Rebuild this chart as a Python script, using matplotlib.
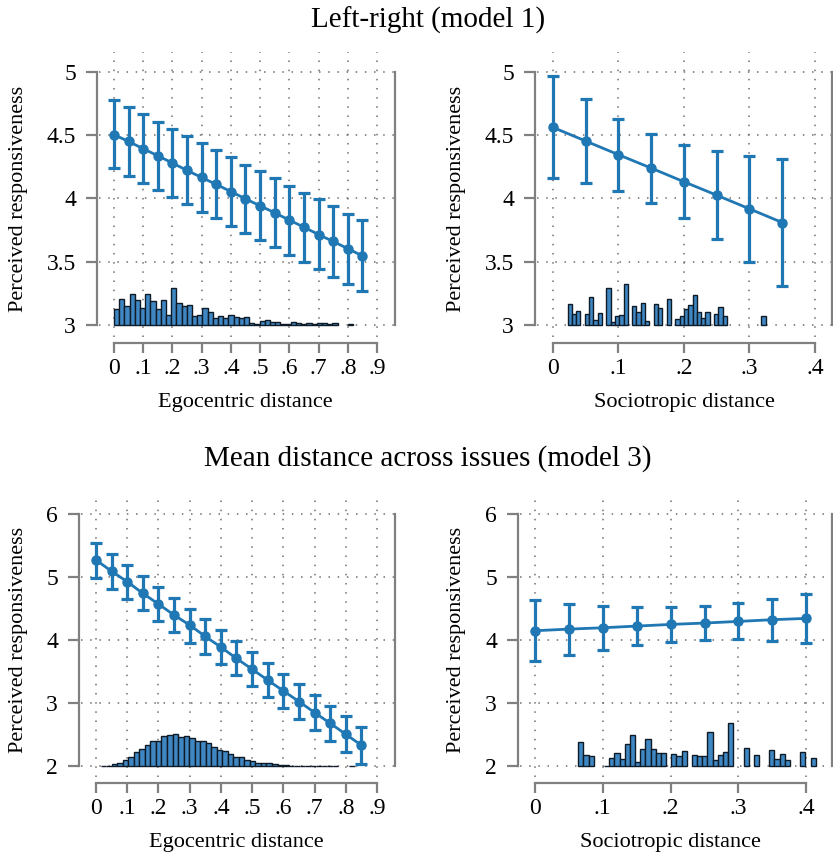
import matplotlib.pyplot as plt
import numpy as np

plt.rcParams['font.family'] = ['Liberation Serif', 'DejaVu Serif']

# ---- data ----
# top-left: Left-right, egocentric distance
ego_lr_x = [0, .05, .1, .15, .2, .25, .3, .35, .4, .45, .5, .55, .6, .65, .7, .75, .8, .85]
ego_lr_est = [4.504, 4.451, 4.393, 4.338, 4.280, 4.222, 4.166, 4.111, 4.055,
              3.997, 3.942, 3.887, 3.829, 3.773, 3.715, 3.660, 3.604, 3.546]
ego_lr_hi = [4.776, 4.720, 4.668, 4.607, 4.549, 4.491, 4.435, 4.383, 4.325,
             4.266, 4.214, 4.158, 4.100, 4.045, 3.992, 3.939, 3.881, 3.826]
ego_lr_lo = [4.240, 4.179, 4.124, 4.069, 4.013, 3.955, 3.897, 3.844, 3.786,
             3.728, 3.670, 3.615, 3.557, 3.499, 3.441, 3.383, 3.325, 3.269]
ego_lr_hist = [0.124, 0.206, 0.150, 0.242, 0.198, 0.134, 0.245, 0.187, 0.124, 0.198,
               0.079, 0.292, 0.171, 0.148, 0.155, 0.071, 0.079, 0.132, 0.100, 0.055,
               0.069, 0.055, 0.079, 0.061, 0.053, 0.063, 0.013, 0.005, 0.032, 0.040,
               0.024, 0.024, 0.008, 0.008, 0.024, 0.013, 0.005, 0.016, 0.005, 0.013,
               0.013, 0.005, 0.016, 0, 0, 0.005]
ego_lr_bin0, ego_lr_binw = 0.0, 0.0178

# top-right: Left-right, sociotropic distance
soc_lr_x = [0, .05, .1, .15, .2, .25, .3, .35]
soc_lr_est = [4.562, 4.454, 4.346, 4.240, 4.132, 4.026, 3.918, 3.810]
soc_lr_hi = [4.966, 4.786, 4.631, 4.509, 4.425, 4.372, 4.335, 4.311]
soc_lr_lo = [4.161, 4.121, 4.063, 3.968, 3.842, 3.681, 3.501, 3.311]
soc_lr_hist = [0.166, 0.087, 0.111, 0, 0.087, 0.221, 0.040, 0.095, 0, 0.292,
               0.024, 0.069, 0.079, 0.324, 0, 0.150, 0.103, 0.174, 0.034, 0,
               0.166, 0.134, 0, 0.206, 0, 0.047, 0.071, 0.124, 0.158, 0.237,
               0.103, 0.055, 0.103, 0, 0.087, 0.142, 0.071, 0, 0, 0,
               0, 0, 0, 0, 0, 0.071]
soc_lr_bin0, soc_lr_binw = 0.0222, 0.00658

# bottom-left: mean distance, egocentric
ego_md_x = ego_lr_x
ego_md_est = [5.269, 5.089, 4.925, 4.739, 4.570, 4.395, 4.236, 4.056, 3.886,
              3.706, 3.536, 3.362, 3.192, 3.023, 2.848, 2.678, 2.503, 2.329]
ego_md_hi = [5.534, 5.364, 5.184, 5.009, 4.834, 4.660, 4.495, 4.326, 4.151,
             3.976, 3.807, 3.632, 3.462, 3.298, 3.128, 2.959, 2.789, 2.620]
ego_md_lo = [4.988, 4.813, 4.644, 4.474, 4.299, 4.125, 3.950, 3.780, 3.611,
             3.441, 3.266, 3.091, 2.917, 2.742, 2.567, 2.392, 2.217, 2.027]
ego_md_hist = [0.005, 0.003, 0.032, 0.053, 0.095, 0.148, 0.217, 0.265, 0.334, 0.403,
               0.403, 0.477, 0.493, 0.509, 0.456, 0.477, 0.445, 0.392, 0.392, 0.360,
               0.297, 0.254, 0.233, 0.191, 0.138, 0.138, 0.090, 0.085, 0.053, 0.048,
               0.042, 0.026, 0.016, 0.016, 0.005, 0.004, 0.004, 0.004, 0.004, 0.004,
               0.004, 0.004, 0.004, 0, 0, 0.005]
ego_md_bin0, ego_md_binw = 0.015, 0.0177

# bottom-right: mean distance, sociotropic
soc_md_x = [0, .05, .1, .15, .2, .25, .3, .35, .4]
soc_md_est = [4.146, 4.172, 4.193, 4.220, 4.246, 4.268, 4.294, 4.321, 4.342]
soc_md_hi = [4.633, 4.575, 4.543, 4.517, 4.517, 4.532, 4.580, 4.654, 4.734]
soc_md_lo = [3.658, 3.759, 3.838, 3.913, 3.966, 3.997, 4.008, 3.987, 3.955]
soc_md_hist = [0.376, 0.175, 0.159, 0, 0, 0.005, 0.122, 0.207, 0.111, 0.350,
               0.493, 0.058, 0.265, 0.424, 0.270, 0.201, 0.201, 0, 0.191, 0.159,
               0.238, 0, 0.175, 0.159, 0.159, 0.540, 0.090, 0.175, 0.223, 0.678,
               0, 0, 0.281, 0, 0.175, 0, 0, 0.254, 0.106, 0.191,
               0.090, 0, 0, 0.217, 0, 0.122]
soc_md_bin0, soc_md_binw = 0.0639, 0.007613

ego_ticks = [0, .1, .2, .3, .4, .5, .6, .7, .8, .9]
ego_ticklabels = ['0', '.1', '.2', '.3', '.4', '.5', '.6', '.7', '.8', '.9']
soc_ticks = [0, .1, .2, .3, .4]
soc_ticklabels = ['0', '.1', '.2', '.3', '.4']
lr_yticks = [3, 3.5, 4, 4.5, 5]
lr_yticklabels = ['3', '3.5', '4', '4.5', '5']
md_yticks = [2, 3, 4, 5, 6]
md_yticklabels = ['2', '3', '4', '5', '6']

titles = ['Left-right (model 1)', 'Mean distance across issues (model 3)']
ylab = 'Perceived responsiveness'

# ---- styling ----
LINE = '#1f77b4'
BARFILL = '#3f87c2'
BAREDGE = '#0e1a26'
AXGRAY = '#808080'
W, H = 833, 857

fig = plt.figure(figsize=(W / 100, H / 100), dpi=100)


def panel(box, xlim, ylim, x, est, lo, hi, hist, bin0, binw,
          xticks, xticklabels, yticks, yticklabels, xlabel, ylab_off):
    # box is (left, top, right, bottom) in pixels
    l, t, r, b = box
    ax = fig.add_axes([l / W, 1 - b / H, (r - l) / W, (b - t) / H])
    ax.set_xlim(xlim)
    ax.set_ylim(ylim)
    base = yticks[0]

    # histogram of the moderator along the bottom
    hist = np.asarray(hist)
    edges = bin0 + binw * np.arange(len(hist))
    keep = hist > 0
    ax.bar(edges[keep], hist[keep], width=binw, bottom=base, align='edge',
           color=BARFILL, edgecolor=BAREDGE, linewidth=1.0, zorder=2)

    # marginal effects with 95% CI
    est = np.asarray(est)
    yerr = [est - np.asarray(lo), np.asarray(hi) - est]
    ax.errorbar(x, est, yerr=yerr, color=LINE, lw=2.0, marker='o', ms=6.5,
                elinewidth=2.3, capsize=4.5, capthick=2.3, zorder=3)

    ax.set_xticks(xticks)
    ax.set_xticklabels(xticklabels)
    ax.set_yticks(yticks)
    ax.set_yticklabels(yticklabels)

    ax.grid(True, linestyle=(0, (1, 5)), linewidth=1.1, color='#6f6f6f')
    ax.set_axisbelow(True)

    for s in ['left', 'bottom', 'right']:
        ax.spines[s].set_color(AXGRAY)
        ax.spines[s].set_linewidth(1.6)
    ax.spines['top'].set_visible(False)
    ax.spines['left'].set_position(('outward', 1.5))
    ax.spines['bottom'].set_position(('outward', 4.3))
    ax.spines['left'].set_bounds(yticks[0], yticks[-1])
    ax.spines['right'].set_bounds(yticks[0], yticks[-1])
    ax.spines['bottom'].set_bounds(xticks[0], xticks[-1])

    ax.tick_params(axis='y', direction='out', length=8, width=1.6, color=AXGRAY,
                   labelsize=17, pad=7)
    ax.tick_params(axis='x', direction='out', length=7, width=1.6, color=AXGRAY,
                   labelsize=17, pad=4)

    # labels centred on the drawn axis lines
    xc = (np.mean([xticks[0], xticks[-1]]) - xlim[0]) / (xlim[1] - xlim[0])
    yc = (np.mean([yticks[0], yticks[-1]]) - ylim[0]) / (ylim[1] - ylim[0])
    ax.set_xlabel(xlabel, fontsize=16, va='center')
    ax.xaxis.set_label_coords(xc, -66 / (b - t))
    ax.set_ylabel(ylab, fontsize=16, va='center', ha='center')
    ax.yaxis.set_label_coords(-ylab_off / (r - l), yc)
    return ax


panel((99, 52, 395, 337), (-0.0513, 0.9616), (2.905, 5.158),
      ego_lr_x, ego_lr_est, ego_lr_lo, ego_lr_hi, ego_lr_hist, ego_lr_bin0, ego_lr_binw,
      ego_ticks, ego_ticklabels, lr_yticks, lr_yticklabels, 'Egocentric distance', 80)
panel((537, 52, 832, 337), (-0.0244, 0.426), (2.905, 5.158),
      soc_lr_x, soc_lr_est, soc_lr_lo, soc_lr_hi, soc_lr_hist, soc_lr_bin0, soc_lr_binw,
      soc_ticks, soc_ticklabels, lr_yticks, lr_yticklabels, 'Sociotropic distance', 80)
panel((81, 495, 395, 777), (-0.048, 0.9577), (1.825, 6.30),
      ego_md_x, ego_md_est, ego_md_lo, ego_md_hi, ego_md_hist, ego_md_bin0, ego_md_binw,
      ego_ticks, ego_ticklabels, md_yticks, md_yticklabels, 'Egocentric distance', 62)
panel((520, 495, 832, 777), (-0.0221, 0.438), (1.825, 6.30),
      soc_md_x, soc_md_est, soc_md_lo, soc_md_hi, soc_md_hist, soc_md_bin0, soc_md_binw,
      soc_ticks, soc_ticklabels, md_yticks, md_yticklabels, 'Sociotropic distance', 63)

fig.text(428 / W, 1 - 20 / H, titles[0], ha='center', va='center', fontsize=21)
fig.text(428 / W, 1 - 459 / H, titles[1], ha='center', va='center', fontsize=21)

fig.savefig('out.png', dpi=100)
